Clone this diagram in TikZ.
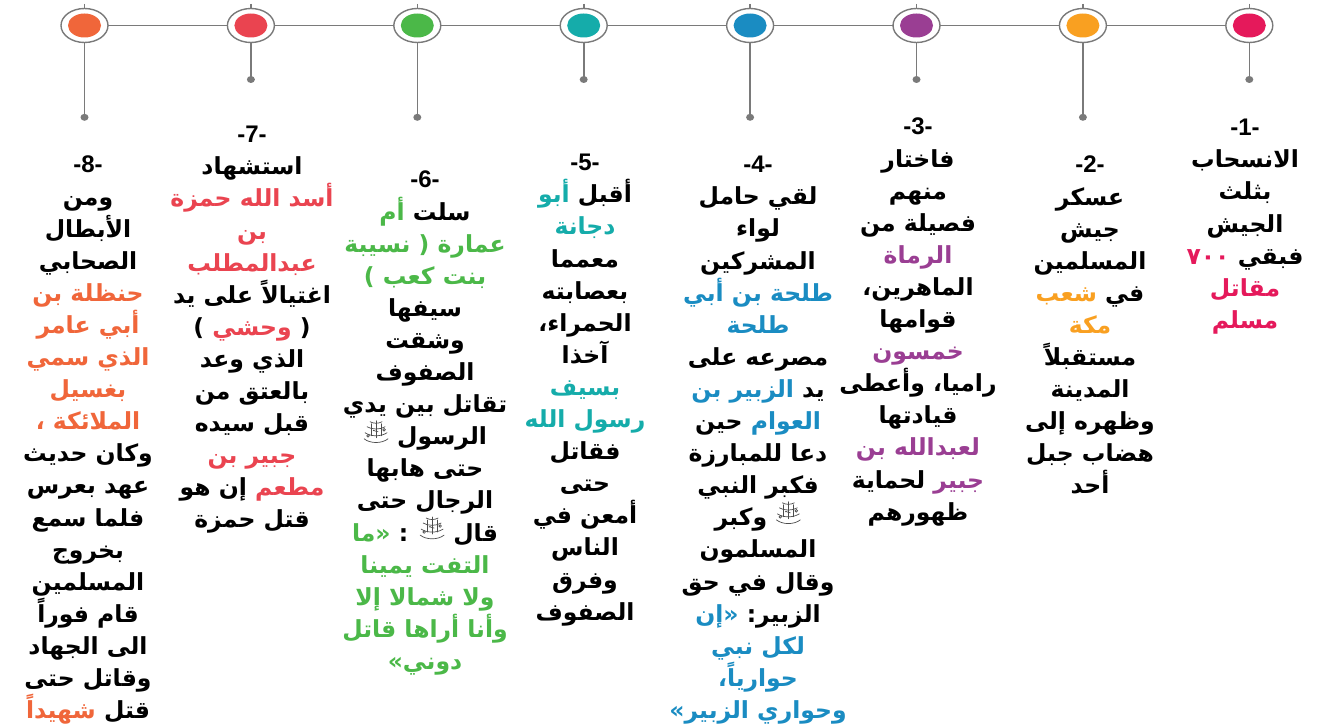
\documentclass[tikz,border=0pt]{standalone}
\usepackage{fontspec}
\TeXXeTstate=1
\newfontfamily\arfont[Script=Arabic]{DejaVu Sans}
\newfontfamily\numfont{Liberation Sans}
\newcommand{\AR}[1]{\beginR#1\endR}
\definecolor{cpink}{HTML}{E5195B}
\definecolor{corangeb}{HTML}{F9A021}
\definecolor{cpurple}{HTML}{9A3E93}
\definecolor{cblue}{HTML}{1A8CC2}
\definecolor{cteal}{HTML}{15ACAA}
\definecolor{cgreen}{HTML}{4BB848}
\definecolor{cred}{HTML}{EA4450}
\definecolor{corangea}{HTML}{F0663A}
\definecolor{lgray}{HTML}{7A7A7A}
\tikzset{
  coltext/.style={align=center, inner sep=0pt, anchor=north,
    font={\fontsize{23.5}{32.1}\selectfont\lineskiplimit=-60pt\arfont\bfseries}},
  hline/.style={draw=lgray, line width=1.6pt},
  stem/.style={draw=lgray, line width=1.6pt},
  ringst/.style={draw=lgray, line width=1.4pt, fill=white},
  orn/.style={draw=black!70, line width=0.7pt, line cap=round}
}
\newcommand{\hd}[1]{{\numfont\bfseries\fontsize{24}{32.1}\selectfont #1}}
% drawn stand-in for the ligature sign (no installed family has it)
\newcommand{\saw}{\tikz[baseline={(0,3)}, x=1pt, y=1pt]{
  \path[use as bounding box] (-1,-2) rectangle (25,22);
  \draw[orn] (0,3) .. controls (6,-2) and (18,-2) .. (24,3);
  \draw[orn] (1,9) .. controls (7,5) and (17,5) .. (23,9);
  \draw[orn] (3,15) .. controls (8,12) and (16,12) .. (21,15);
  \draw[orn] (6,20) .. controls (10,18) and (14,18) .. (18,20);
  \draw[orn] (7,18) -- (7,6); \draw[orn] (12,21) -- (12,4); \draw[orn] (17,18) -- (17,6);
  \draw[orn] (4,6) circle (1.3); \draw[orn] (20,12) circle (1.3);
  \draw[orn] (9,11) .. controls (10,13) and (11,9) .. (14,10);
}}
\begin{document}
\begin{tikzpicture}[x=1pt,y=-1pt]
\useasboundingbox (0,0) rectangle (1329,727);
\fill[white] (0,0) rectangle (1329,727);
% anchor points
\foreach \i/\x/\dy in {1/1249.3/79.5, 2/1082.9/117.3, 3/916.5/79.5, 4/750.1/117.3, 5/583.7/79.5, 6/417.3/117.3, 7/250.9/79.5, 8/84.5/117.3}{
  \coordinate (p\i) at (\x,25.5);
  \coordinate (t\i) at (\x,4);
  \coordinate (d\i) at (\x,\dy);
}
\draw[hline] (p8) -- (p1);
\foreach \i/\col in {1/cpink, 2/corangeb, 3/cpurple, 4/cblue, 5/cteal, 6/cgreen, 7/cred, 8/corangea}{
  \draw[stem] (t\i) -- (d\i);
  \fill[lgray] (d\i) ellipse [x radius=4, y radius=3.5];
  \path[ringst] (p\i) ellipse [x radius=23.5, y radius=17];
  \fill[\col] (p\i) ellipse [x radius=16.5, y radius=12];
}
% column 1
\node[coltext] (n1) at (1245,119) {\hd{-1-}\\
\AR{الانسحاب}\\
\AR{بثلث}\\
\AR{الجيش}\\
{\color{cpink}٧٠٠} \AR{فبقي}\\
{\color{cpink}\AR{مقاتل}}\\
{\color{cpink}\AR{مسلم}}};
% column 2
\node[coltext] (n2) at (1090,156) {\hd{-2-}\\
\AR{عسكر}\\
\AR{جيش}\\
\AR{المسلمين}\\
{\color{corangeb}\AR{شعب}} \AR{في}\\
{\color{corangeb}\AR{مكة}}\\
\AR{مستقبلاً}\\
\AR{المدينة}\\
\AR{وظهره إلى}\\
\AR{هضاب جبل}\\
\AR{أحد}};
% column 3
\node[coltext] (n3) at (918,118) {\hd{-3-}\\
\AR{فاختار}\\
\AR{منهم}\\
\AR{فصيلة من}\\
{\color{cpurple}\AR{الرماة}}\\
،\AR{الماهرين}\\
\AR{قوامها}\\
{\color{cpurple}\AR{خمسون}}\\
\AR{وأعطى} ،\AR{راميا}\\
\AR{قيادتها}\\
{\color{cpurple}\AR{لعبدالله بن}}\\
\AR{لحماية} {\color{cpurple}\AR{جبير}}\\
\AR{ظهورهم}};
% column 4
\node[coltext] (n4) at (758,156) {\hd{-4-}\\
\AR{لقي حامل}\\
\AR{لواء}\\
\AR{المشركين}\\
{\color{cblue}\AR{طلحة بن أبي}}\\
{\color{cblue}\AR{طلحة}}\\
\AR{مصرعه على}\\
{\color{cblue}\AR{الزبير بن}} \AR{يد}\\
\AR{حين} {\color{cblue}\AR{العوام}}\\
\AR{دعا للمبارزة}\\
\AR{فكبر النبي}\\
\AR{وكبر} \saw\\
\AR{المسلمون}\\
\AR{وقال في حق}\\
{\color{cblue}\AR{إن}«} :\AR{الزبير}\\
{\color{cblue}\AR{لكل نبي}}\\
{\color{cblue}،\AR{حوارياً}}\\
{\color{cblue}»\AR{وحواري الزبير}}};
% column 5
\node[coltext] (n5) at (585,154) {\hd{-5-}\\
{\color{cteal}\AR{أبو}} \AR{أقبل}\\
{\color{cteal}\AR{دجانة}}\\
\AR{معمما}\\
\AR{بعصابته}\\
،\AR{الحمراء}\\
\AR{آخذا}\\
{\color{cteal}\AR{بسيف}}\\
{\color{cteal}\AR{رسول الله}}\\
\AR{فقاتل}\\
\AR{حتى}\\
\AR{أمعن في}\\
\AR{الناس}\\
\AR{وفرق}\\
\AR{الصفوف}};
% column 6
\node[coltext] (n6) at (425,171) {\hd{-6-}\\
{\color{cgreen}\AR{أم}} \AR{سلت}\\
{\color{cgreen}\AR{نسيبة} ( \AR{عمارة}}\\
{\color{cgreen}) \AR{بنت كعب}}\\
\AR{سيفها}\\
\AR{وشقت}\\
\AR{الصفوف}\\
\AR{تقاتل بين يدي}\\
\saw\ \AR{الرسول}\\
\AR{حتى هابها}\\
\AR{الرجال حتى}\\
{\color{cgreen}\AR{ما}«} : \saw\ \AR{قال}\\
{\color{cgreen}\AR{التفت يمينا}}\\
{\color{cgreen}\AR{ولا شمالا إلا}}\\
{\color{cgreen}\AR{وأنا أراها قاتل}}\\
{\color{cgreen}»\AR{دوني}}};
% column 7
\node[coltext] (n7) at (252,126) {\hd{-7-}\\
\AR{استشهاد}\\
{\color{cred}\AR{أسد الله حمزة}}\\
{\color{cred}\AR{بن}}\\
{\color{cred}\AR{عبدالمطلب}}\\
\AR{اغتيالاً على يد}\\
) {\color{cred}\AR{وحشي}} (\\
\AR{الذي وعد}\\
\AR{بالعتق من}\\
\AR{قبل سيده}\\
{\color{cred}\AR{جبير بن}}\\
\AR{إن هو} {\color{cred}\AR{مطعم}}\\
\AR{قتل حمزة}};
% column 8
\node[coltext] (n8) at (88,156) {\hd{-8-}\\
\AR{ومن}\\
\AR{الأبطال}\\
\AR{الصحابي}\\
{\color{corangea}\AR{حنظلة بن}}\\
{\color{corangea}\AR{أبي عامر}}\\
{\color{corangea}\AR{الذي سمي}}\\
{\color{corangea}\AR{بغسيل}}\\
{\color{corangea}، \AR{الملائكة}}\\
\AR{وكان حديث}\\
\AR{عهد بعرس}\\
\AR{فلما سمع}\\
\AR{بخروج}\\
\AR{المسلمين}\\
\AR{قام فوراً}\\
\AR{الى الجهاد}\\
\AR{وقاتل حتى}\\
{\color{corangea}\AR{شهيداً}} \AR{قتل}};
\end{tikzpicture}
\end{document}
